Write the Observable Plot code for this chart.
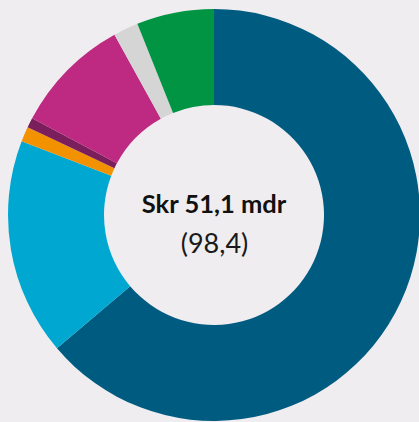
<!DOCTYPE html>
<html>
<head>
<meta charset="utf-8">
<script src="https://cdn.jsdelivr.net/npm/d3@7"></script>
<script src="https://cdn.jsdelivr.net/npm/@observablehq/plot@0.6"></script>
<style>
  html, body { margin: 0; padding: 0; background: #efedf0; overflow: hidden; }
  #chart svg { display: block; }
</style>
</head>
<body>
<div id="chart"></div>
<script>
// Data (Skr mdr), clockwise from 12 o'clock
const categories = ["Segment 1", "Segment 2", "Segment 3", "Segment 4", "Segment 5", "Segment 6", "Segment 7"];
const values = [32.6, 8.7, 0.6, 0.4, 4.7, 1.0, 3.1];
const colors = ["#005b80", "#00a8d1", "#f39200", "#7b1f5c", "#be2a82", "#d5d5d5", "#009443"];
const titleLabel = "Skr 51,1 mdr";
const subLabel = "(98,4)";

const W = 419, H = 422;
const data = categories.map((c, i) => ({category: c, value: values[i]}));

const color = Plot.scale({color: {type: "ordinal", domain: categories, range: colors}});

function donut(index, scales, vals, dimensions) {
  const cx = 214, cy = 215, rOuter = 206, rInner = 110;
  const pie = d3.pie().value(d => d.value).sort(null);
  const arc = d3.arc().innerRadius(rInner).outerRadius(rOuter);
  const g = d3.create("svg:g").attr("transform", `translate(${cx},${cy})`);
  g.selectAll("path")
    .data(pie(data))
    .join("path")
    .attr("d", arc)
    .attr("fill", d => color.apply(d.data.category));
  return g.node();
}

const chart = Plot.plot({
  width: W,
  height: H,
  margin: 0,
  style: {background: "#efedf0", overflow: "hidden"},
  x: {axis: null},
  y: {axis: null},
  marks: [
    donut,
    Plot.text([titleLabel], {
      text: d => d, frameAnchor: "middle", lineAnchor: "middle",
      dx: 4, dy: -7, fontSize: 25.5, fontWeight: "bold", fill: "#111",
      fontFamily: "Lato"
    }),
    Plot.text([subLabel], {
      text: d => d, frameAnchor: "middle", lineAnchor: "middle",
      dx: 4.5, dy: 33, fontSize: 27, fontWeight: 400, fill: "#1a1a1a",
      fontFamily: "Lato"
    })
  ]
});
document.getElementById("chart").appendChild(chart);
</script>
</body>
</html>
